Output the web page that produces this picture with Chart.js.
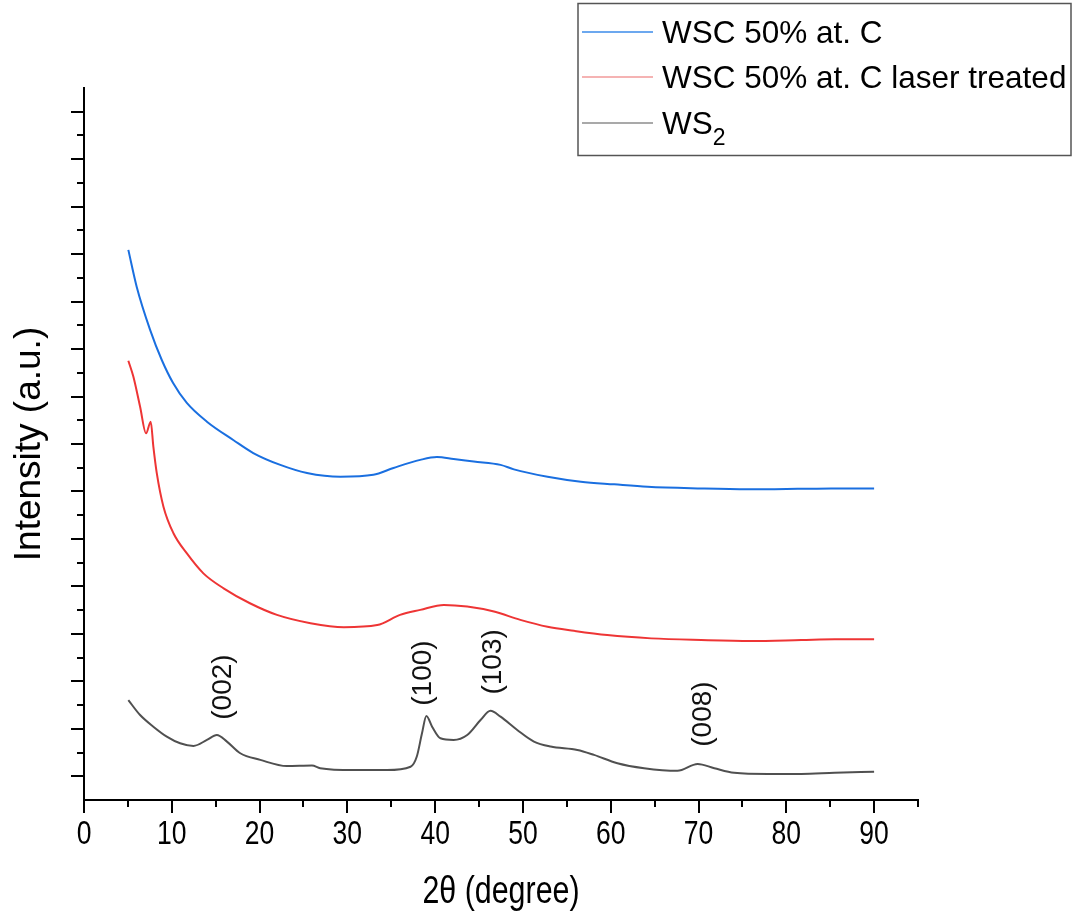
<!DOCTYPE html>
<html>
<head>
<meta charset="utf-8">
<script src="https://cdn.jsdelivr.net/npm/chart.js@4.4.0/dist/chart.umd.min.js"></script>
<style>
  html, body { margin: 0; padding: 0; background: #fff; }
  #wrap { width: 1074px; height: 917px; }
</style>
</head>
<body>
<div id="wrap"><canvas id="xrdChart" width="1074" height="917"></canvas></div>
<script>
// XRD patterns (2theta in degrees, intensity in arbitrary units)
const wscTheta = [5.05, 6.0, 7.53, 8.86, 10.15, 11.71, 14.0, 17.0, 19.28, 22.36, 25.4, 29.2, 32.96, 35.25, 38.3, 40.2, 42.1, 44.4, 47.45, 48.97, 52.8, 56.6, 60.4, 64.2, 69.9, 75.6, 81.3, 85.1, 90.0];
const wscIntensity = [23.18, 21.63, 19.81, 18.54, 17.57, 16.73, 15.94, 15.17, 14.62, 14.12, 13.78, 13.62, 13.70, 13.99, 14.33, 14.45, 14.37, 14.26, 14.12, 13.93, 13.62, 13.41, 13.30, 13.20, 13.13, 13.09, 13.11, 13.13, 13.13];

const laserTheta = [5.05, 5.62, 6.39, 7.07, 7.6, 7.9, 8.29, 9.05, 10.19, 11.7, 13.6, 15.9, 18.9, 21.98, 25.8, 29.6, 33.4, 36.0, 38.3, 41.0, 43.65, 46.7, 49.7, 52.8, 55.8, 59.6, 64.6, 70.3, 75.96, 81.7, 85.5, 90.0];
const laserIntensity = [18.51, 17.84, 16.57, 15.45, 15.94, 14.89, 13.77, 12.36, 11.24, 10.40, 9.55, 8.92, 8.29, 7.80, 7.45, 7.28, 7.37, 7.80, 8.01, 8.22, 8.15, 7.94, 7.59, 7.30, 7.13, 6.95, 6.81, 6.74, 6.70, 6.74, 6.77, 6.77];

const ws2Theta = [5.05, 6.39, 7.9, 9.43, 10.95, 12.47, 14.0, 15.13, 16.28, 17.8, 20.08, 23.1, 25.97, 26.9, 30.7, 34.5, 37.2, 37.9, 38.5, 39.0, 39.65, 40.6, 42.1, 43.65, 45.17, 46.3, 47.45, 49.35, 51.25, 53.15, 56.2, 58.1, 60.76, 63.8, 67.6, 69.9, 71.8, 74.06, 77.9, 81.7, 85.5, 90.0];
const ws2Intensity = [4.21, 3.58, 3.09, 2.67, 2.39, 2.28, 2.53, 2.74, 2.46, 1.97, 1.69, 1.43, 1.45, 1.34, 1.26, 1.26, 1.40, 1.82, 2.81, 3.54, 3.09, 2.60, 2.53, 2.74, 3.37, 3.76, 3.51, 2.95, 2.46, 2.25, 2.11, 1.90, 1.55, 1.34, 1.23, 1.52, 1.34, 1.15, 1.10, 1.10, 1.15, 1.19];

// peak labels on the WS2 pattern
const peakLabels = ['(002)', '(100)', '(103)', '(008)'];
const peakTheta = [15.85, 38.67, 46.65, 70.5];
const peakLevel = [4.76, 5.35, 5.82, 3.62];

// x tick labels (every 10 degrees), minor marks every 5
const xTickValues = [0, 10, 20, 30, 40, 50, 60, 70, 80, 90];

const seriesNames = ['WSC 50% at. C', 'WSC 50% at. C laser treated', 'WS'];
const seriesColors = ['#1a6fe0', '#ee3535', '#505050'];
const legendColors = ['#3b8bea', '#f29a9a', '#8c8c8c'];

const xMin = 0, xMax = 95;
const yMin = 0, yMax = 30;

function toPoints(xs, ys) {
  return xs.map((x, i) => ({ x: x, y: ys[i] }));
}

// draws major / minor tick marks on both axes and the narrow x labels
const axisDecor = {
  id: 'axisDecor',
  afterDraw(chart) {
    const ctx = chart.ctx;
    const xs = chart.scales.x, ys = chart.scales.y;
    const area = chart.chartArea;
    ctx.save();
    ctx.strokeStyle = '#000';
    ctx.lineWidth = 2;
    ctx.beginPath();
    for (let v = xMin; v <= xMax; v += 5) {
      const px = Math.round(xs.getPixelForValue(v));
      const len = v % 10 === 0 ? 13 : 7;
      ctx.moveTo(px, area.bottom);
      ctx.lineTo(px, area.bottom + len);
    }
    for (let v = yMin + 1; v < yMax; v++) {
      const py = Math.round(ys.getPixelForValue(v));
      const len = v % 2 === 1 ? 13 : 7;
      ctx.moveTo(area.left, py);
      ctx.lineTo(area.left - len, py);
    }
    ctx.stroke();

    // condensed labels like the original (Arial Narrow look)
    ctx.fillStyle = '#000';
    ctx.textAlign = 'center';
    ctx.textBaseline = 'middle';
    ctx.font = '34px "Liberation Sans", Arial, sans-serif';
    xTickValues.forEach(v => {
      ctx.save();
      ctx.translate(xs.getPixelForValue(v), area.bottom + 35);
      ctx.scale(0.78, 1);
      ctx.fillText(String(v), 0, 0);
      ctx.restore();
    });
    ctx.font = '38px "Liberation Sans", Arial, sans-serif';
    ctx.save();
    ctx.translate((area.left + area.right) / 2, area.bottom + 93);
    ctx.scale(0.8, 1);
    ctx.fillText('2θ (degree)', 0, 0);
    ctx.restore();
    ctx.restore();
  }
};

// miller index labels, rotated
const peakText = {
  id: 'peakText',
  afterDatasetsDraw(chart) {
    const ctx = chart.ctx;
    const xs = chart.scales.x, ys = chart.scales.y;
    ctx.save();
    ctx.fillStyle = '#111';
    ctx.font = '28px "Liberation Sans", Arial, sans-serif';
    ctx.textAlign = 'center';
    ctx.textBaseline = 'middle';
    peakLabels.forEach((txt, i) => {
      ctx.save();
      ctx.translate(xs.getPixelForValue(peakTheta[i]), ys.getPixelForValue(peakLevel[i]));
      ctx.rotate(-Math.PI / 2);
      ctx.fillText(txt, 0, 0);
      ctx.restore();
    });
    ctx.restore();
  }
};

// boxed legend in the top right corner
const boxLegend = {
  id: 'boxLegend',
  afterDraw(chart) {
    const ctx = chart.ctx;
    ctx.save();
    ctx.strokeStyle = '#555';
    ctx.lineWidth = 1.5;
    ctx.strokeRect(578, 3.5, 493, 152);
    const rows = [32, 77, 123];
    ctx.font = '31.5px "Liberation Sans", Arial, sans-serif';
    ctx.fillStyle = '#000';
    ctx.textBaseline = 'alphabetic';
    rows.forEach((y, i) => {
      ctx.strokeStyle = legendColors[i];
      ctx.lineWidth = 1.5;
      ctx.beginPath();
      ctx.moveTo(582, y);
      ctx.lineTo(653, y);
      ctx.stroke();
      ctx.fillText(seriesNames[i], 662, y + 11);
    });
    // subscript for WS2
    const w = ctx.measureText(seriesNames[2]).width;
    ctx.font = '23px "Liberation Sans", Arial, sans-serif';
    ctx.fillText('2', 662 + w, 123 + 22);
    ctx.restore();
  }
};

const ctx = document.getElementById('xrdChart').getContext('2d');
new Chart(ctx, {
  type: 'line',
  data: {
    datasets: [
      { label: seriesNames[0], data: toPoints(wscTheta, wscIntensity), borderColor: seriesColors[0] },
      { label: seriesNames[1], data: toPoints(laserTheta, laserIntensity), borderColor: seriesColors[1] },
      { label: seriesNames[2] + '2', data: toPoints(ws2Theta, ws2Intensity), borderColor: seriesColors[2] }
    ]
  },
  options: {
    responsive: false,
    animation: false,
    devicePixelRatio: 1,
    layout: { padding: { top: 88, right: 156, bottom: 0, left: 0 } },
    elements: {
      point: { radius: 0 },
      line: { borderWidth: 2, cubicInterpolationMode: 'monotone', fill: false }
    },
    plugins: {
      legend: { display: false },
      tooltip: { enabled: false }
    },
    scales: {
      x: {
        type: 'linear',
        min: xMin,
        max: xMax,
        grid: { display: false, drawTicks: false },
        border: { display: true, color: '#000', width: 2 },
        ticks: { display: false },
        afterFit(scale) { scale.height = 117; }
      },
      y: {
        min: yMin,
        max: yMax,
        grid: { display: false, drawTicks: false },
        border: { display: true, color: '#000', width: 2 },
        ticks: { display: false },
        title: {
          display: true,
          text: 'Intensity (a.u.)',
          color: '#000',
          font: { family: '"Liberation Sans", Arial, sans-serif', size: 37 },
          padding: { top: 8, bottom: 0 }
        },
        afterFit(scale) { scale.width = 84; }
      }
    }
  },
  plugins: [axisDecor, peakText, boxLegend]
});
</script>
</body>
</html>
